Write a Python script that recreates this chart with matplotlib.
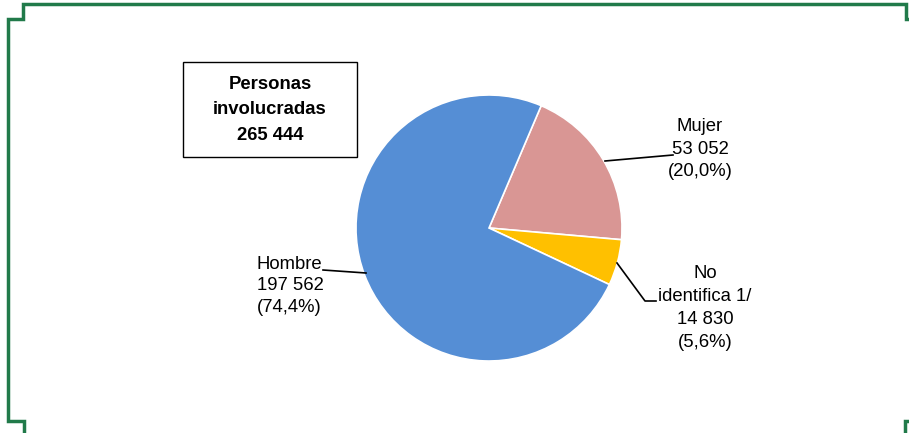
import matplotlib
matplotlib.use('Agg')
import matplotlib.pyplot as plt

plt.rcParams['font.family'] = ['Liberation Sans', 'DejaVu Sans']

# data
categorias = ['Mujer', 'No\nidentifica 1/', 'Hombre']
valores = [53052, 14830, 197562]
porcentajes = ['20,0%', '5,6%', '74,4%']
colores = ['#D99694', '#FFC000', '#558ED5']
total = 265444

W, H = 909, 433
fig = plt.figure(figsize=(W / 100, H / 100), dpi=100)
ax = fig.add_axes([0, 0, 1, 1])

def yy(y):
    # pixel row (from top) -> data y
    return H - y

# pie
ax.pie(valores, colors=colores, startangle=66.9, counterclock=False,
       center=(489, yy(228)), radius=133, frame=True,
       wedgeprops=dict(edgecolor='white', linewidth=1.2))
ax.set_xlim(0, W)
ax.set_ylim(0, H)
ax.set_aspect('equal')
ax.axis('off')

def fmt(v):
    return f'{v:,}'.replace(',', ' ')

fs = 13.3
# Mujer
ax.text(700, yy(149), f'{categorias[0]}\n{fmt(valores[0])}\n({porcentajes[0]})',
        ha='center', va='center', fontsize=fs, linespacing=1.44)
ax.plot([605, 673], [yy(161), yy(155)], color='black', lw=1.2)

# No identifica
ax.text(705, yy(308), f'{categorias[1]}\n{fmt(valores[1])}\n({porcentajes[1]})',
        ha='center', va='center', fontsize=fs, linespacing=1.44)
ax.plot([617, 645, 656], [yy(263), yy(301), yy(301)], color='black', lw=1.2)

# Hombre
ax.text(257, yy(286), f'{categorias[2]}\n{fmt(valores[2])}\n({porcentajes[2]})',
        ha='left', va='center', fontsize=fs, linespacing=1.37)
ax.plot([323, 366], [yy(270), yy(273)], color='black', lw=1.2)

# total box
ax.add_patch(plt.Rectangle((183, yy(157)), 174, 95, facecolor='white',
                           edgecolor='black', lw=1))
ax.text(270, yy(110), f'Personas\ninvolucradas\n{fmt(total)}',
        ha='center', va='center', fontsize=fs, fontweight='bold', linespacing=1.67)

# green frame
verde = '#217A4A'
ax.plot([24, 24, 8, 8, 23, 23, 906, 906, 909],
        [yy(433), yy(421), yy(421), yy(19), yy(19), yy(4), yy(4), yy(19), yy(19)],
        color=verde, lw=2.5, clip_on=False, solid_joinstyle='miter')
ax.plot([905, 905, 909], [yy(433), yy(421), yy(421)],
        color=verde, lw=2.5, clip_on=False, solid_joinstyle='miter')

fig.savefig('out.png', dpi=100)
